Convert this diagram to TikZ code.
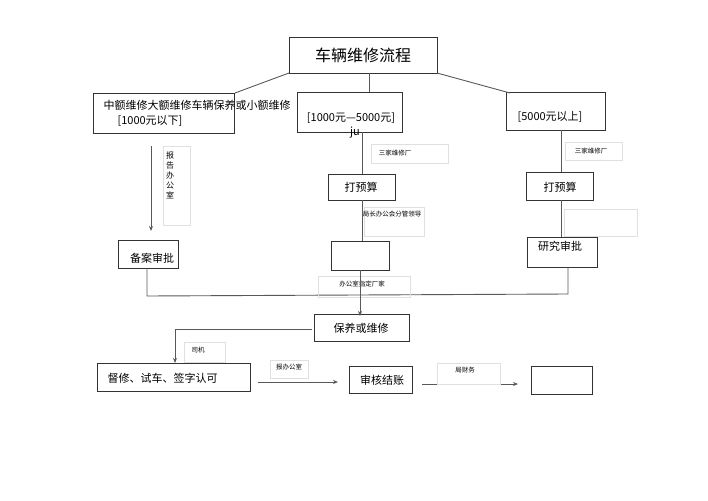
\documentclass[tikz,border=0pt]{standalone}
\usepackage{fontspec}
\setmainfont{Noto Sans CJK SC}
\usetikzlibrary{arrows.meta}
\begin{document}
\begin{tikzpicture}[x=1pt,y=-1pt,
  box/.style={draw=black!80,line width=0.9pt,inner sep=0pt},
  lbl/.style={draw=black!12,line width=0.5pt,inner sep=0pt},
  ln/.style={draw=black!65,line width=0.9pt},
  arr/.style={ln,-{Stealth[length=5pt,width=4pt]}},
  t/.style={font=\fontsize{11}{13}\selectfont},
  s/.style={font=\fontsize{6.5}{8}\selectfont}]
\useasboundingbox (0,0) rectangle (708,500);
% boxes
\draw[box] (289,37) rectangle (437,73); \node[font=\fontsize{16}{18}\selectfont] (title) at (363,55) {车辆维修流程};
\coordinate (tl) at (289,73); \coordinate (tm) at (369,73); \coordinate (tr) at (437,73);
\draw[box] (93,93) rectangle (234,133); \coordinate (L) at (235,93);
\node[t,anchor=west] (ltxt) at (100,105) {中额维修大额维修车辆保养或小额维修};
\node[t] (ltxt2) at (150,121) {[1000元以下]};
\draw[box] (297,92) rectangle (402,132); \coordinate (M) at (369,92);
\node[t] (mtxt) at (351,118) {[1000元—5000元]};
\node[t] (ju) at (355,133) {ju};
\draw[box] (506,92) rectangle (605,130); \coordinate (R) at (510,93);
\node[t] (rtxt) at (550,117) {[5000元以上]};
\draw[ln] (tl) -- (L); \draw[ln] (tm) -- (M); \draw[ln] (tr) -- (R);
% left column
\coordinate (la1) at (151,146); \coordinate (la2) at (151,231);
\draw[arr] (la1) -- (la2);
\draw[lbl] (163,146) rectangle (190,225);
\node[s,align=center,font=\fontsize{8}{10}\selectfont] (bg) at (170,175) {报\\告\\办\\公\\室};
\draw[box] (118,240) rectangle (178,268); \node[t] (ba) at (152,258) {备案审批};
% middle column
\draw[lbl] (371,144) rectangle (448,163); \node[s] (sj1) at (395,153) {三家维修厂};
\draw[box] (328,174) rectangle (395,200); \node[t] (ys1) at (361,187) {打预算};
\draw[lbl] (364,207) rectangle (424,236); \node[s] (jz) at (392,214) {局长办公会分管领导};
\draw[box] (331,241) rectangle (389,270); \node (e1) at (360,255) {};
\draw[ln] (362,132) -- (362,174); \draw[ln] (362,200) -- (362,241);
% right column
\draw[lbl] (565,142) rectangle (622,160); \node[s] (sj2) at (591,151) {三家维修厂};
\draw[box] (526,172) rectangle (593,200); \node[t] (ys2) at (560,187) {打预算};
\draw[lbl] (564,209) rectangle (637,236);
\draw[box] (527,237) rectangle (597,267); \node[t] (yj) at (560,246) {研究审批};
\draw[ln] (561,130) -- (561,172); \draw[ln] (561,200) -- (561,237);
% join
\draw[ln] (147,268) -- (147,296) -- (568,294) -- (568,267);
\draw[lbl] (318,276) rectangle (410,297); \node[s] (zd) at (362,284) {办公室指定厂家};
\draw[box] (314,314) rectangle (409,341); \node[t] (by) at (361,328) {保养或维修};
\draw[arr] (360,270) -- (360,316);
% bottom
\draw[arr] (312,329) -- (175,329) -- (175,363);
\draw[lbl] (184,342) rectangle (225,362); \node[s] (sjj) at (198,350) {司机};
\draw[box] (97,363) rectangle (250,391); \node[t,anchor=west] (dx) at (104,378) {督修、试车、签字认可};
\draw[arr] (258,382) -- (338,382);
\draw[lbl] (270,360) rectangle (308,378); \node[s] (bb) at (289,367) {报办公室};
\draw[box] (349,366) rectangle (412,393); \node[t] (sh) at (382,380) {审核结账};
\draw[arr] (422,384) -- (518,384);
\draw[lbl] (437,363) rectangle (500,384); \node[s] (cw) at (465,370) {局财务};
\draw[box] (531,366) rectangle (592,394);
\end{tikzpicture}
\end{document}
